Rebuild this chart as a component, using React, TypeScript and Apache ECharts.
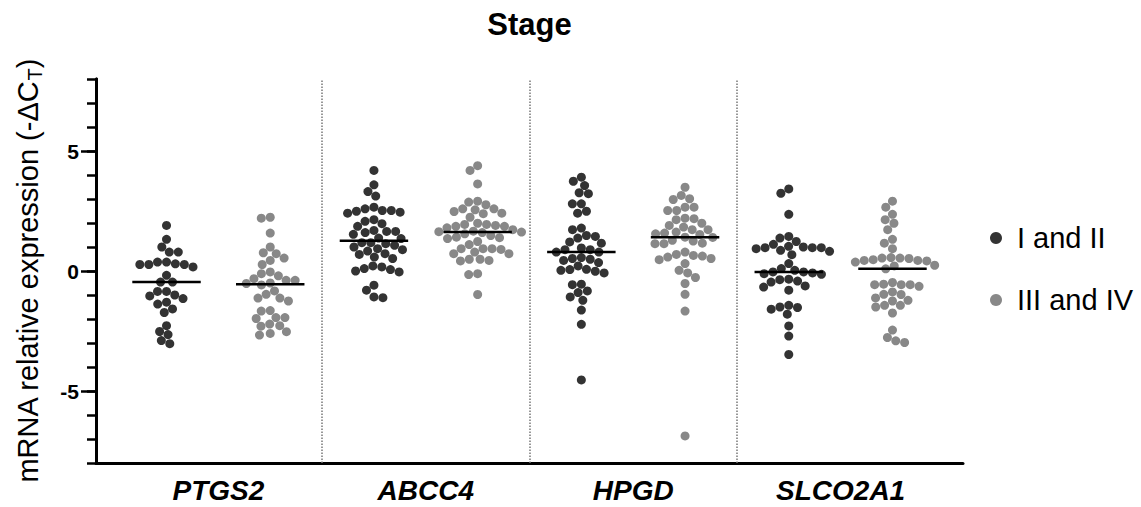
import React, { useEffect, useRef } from "react";
import * as echarts from "echarts";

const genes = ["PTGS2", "ABCC4", "HPGD", "SLCO2A1"];
const stages = ["I and II", "III and IV"];
const yTickLabels = [-5, 0, 5];

const ptgs2Early = [1.9, 1.32, 1.0, 0.79, 0.79, 0.37, 0.37, 0.3, 0.27, 0.27, 0.27, 0.17, -0.18, -0.46, -0.46, -0.85, -0.85, -1.04, -1.15, -1.0, -1.3, -1.38, -1.58, -1.73, -2.28, -2.65, -2.52, -2.9, -3.03];
const ptgs2Late = [2.24, 2.2, 1.58, 1.0, 0.76, 0.72, 0.54, 0.44, 0.27, -0.04, -0.2, -0.11, -0.32, -0.52, -0.5, -0.39, -0.39, -0.58, -0.83, -0.97, -1.13, -1.13, -1.25, -1.67, -1.65, -1.94, -1.94, -1.98, -2.28, -2.21, -2.3, -2.53, -2.6, -2.67];
const abcc4Early = [4.19, 3.59, 3.31, 3.12, 2.52, 2.52, 2.66, 2.41, 2.45, 2.49, 2.59, 2.14, 2.07, 1.97, 1.86, 1.69, 1.53, 1.65, 1.6, 1.65, 1.37, 1.35, 1.14, 1.18, 1.18, 1.0, 0.89, 0.93, 1.07, 0.72, 0.83, 0.69, 0.58, 0.52, 0.21, 0.17, 0.1, 0.06, -0.04, 0.0, -0.59, -0.8, -1.08, -1.11];
const abcc4Late = [4.39, 4.19, 3.63, 2.87, 2.76, 2.91, 2.59, 2.55, 2.48, 2.59, 2.24, 2.39, 2.41, 1.86, 1.94, 1.8, 1.99, 1.86, 1.9, 1.94, 1.72, 1.66, 1.64, 1.62, 1.39, 1.35, 1.48, 1.55, 1.6, 1.41, 1.23, 1.1, 0.93, 0.93, 0.93, 0.9, 0.79, 0.72, 0.72, 0.44, 0.42, 0.49, 0.49, -0.11, -0.15, -0.98];
const hpgdEarly = [3.91, 3.74, 3.56, 3.26, 3.22, 2.8, 2.8, 2.41, 2.49, 1.79, 1.72, 1.48, 1.37, 1.44, 1.21, 1.16, 0.96, 0.89, 0.79, 0.89, 0.79, 0.49, 0.44, 0.35, 0.56, 0.52, 0.21, 0.07, 0.03, -0.08, -0.01, 0.06, -0.55, -0.57, -0.9, -0.83, -1.08, -1.22, -1.63, -2.22, -4.54];
const hpgdLate = [3.49, 3.15, 3.01, 2.98, 2.66, 2.66, 2.52, 2.52, 2.18, 2.2, 2.14, 1.9, 1.83, 1.99, 1.58, 1.72, 1.55, 1.62, 1.52, 1.4, 1.41, 1.72, 1.28, 1.16, 1.14, 1.14, 1.25, 0.79, 0.69, 0.65, 0.58, 0.47, 0.31, 0.52, 0.62, 0.03, -0.08, -0.27, -0.52, -0.97, -1.67, -6.87];
const slco2a1Early = [3.42, 3.24, 2.36, 1.44, 1.37, 1.23, 0.82, 0.93, 1.11, 0.97, 0.86, 1.03, 0.97, 0.97, 1.0, 0.68, 0.31, -0.08, -0.11, -0.14, 0.03, 0.1, -0.04, -0.04, -0.42, -0.36, -0.34, -0.46, -0.67, -0.8, -0.62, -1.59, -1.8, -1.5, -1.43, -1.52, -2.29, -2.71, -3.48];
const slco2a1Late = [2.91, 2.66, 2.36, 2.14, 1.99, 1.72, 1.32, 1.16, 0.93, 0.44, 0.44, 0.47, 0.56, 0.42, 0.54, 0.54, 0.52, 0.37, 0.24, 0.21, 0.09, -0.57, -0.57, -0.57, -0.48, -0.64, -0.55, -0.87, -0.98, -0.97, -1.22, -1.25, -1.12, -1.5, -1.43, -1.43, -1.75, -2.46, -2.77, -2.91, -2.98];

const earlyGroups = [ptgs2Early, abcc4Early, hpgdEarly, slco2a1Early];
const lateGroups = [ptgs2Late, abcc4Late, hpgdLate, slco2a1Late];

const W = 1141;
const H = 507;
const GRID = { left: 96, right: 178, top: 79, bottom: 44 };
const X_MIN = -0.68;
const X_MAX = 7.68;
const Y_MIN = -8;
const Y_MAX = 8;
const FONT = "'Liberation Sans', Arial, Helvetica, sans-serif";

function median(a: number[]) {
  const s = [...a].sort((x, y) => x - y);
  const n = s.length;
  return n % 2 ? s[(n - 1) / 2] : (s[n / 2 - 1] + s[n / 2]) / 2;
}

// simple beeswarm: offsets (in x-axis units) so that dots do not overlap
function swarmOffsets(values: number[], pxX: number, pxY: number, D: number) {
  const order = values.map((_, i) => i).sort((a, b) => values[b] - values[a]);
  const placed: { x: number; y: number }[] = [];
  const out = new Array(values.length).fill(0);
  for (const i of order) {
    const py = values[i] * pxY;
    const near = placed.filter((p) => Math.abs(p.y - py) < D);
    const cands = [0];
    for (const p of near) {
      const h = Math.sqrt(D * D - (p.y - py) * (p.y - py));
      cands.push(p.x - h, p.x + h);
    }
    cands.sort((a, b) => Math.abs(a) - Math.abs(b) || a - b);
    let chosen = 0;
    for (const c of cands) {
      if (near.every((p) => (p.x - c) ** 2 + (p.y - py) ** 2 >= D * D - 0.01)) {
        chosen = c;
        break;
      }
    }
    placed.push({ x: chosen, y: py });
    out[i] = chosen / pxX;
  }
  return out;
}

export default function App() {
  const ref = useRef<HTMLDivElement>(null);

  useEffect(() => {
    if (!ref.current) return;
    const chart = echarts.init(ref.current, undefined, { renderer: "svg" });

    const pxX = (W - GRID.left - GRID.right) / (X_MAX - X_MIN);
    const pxY = (H - GRID.top - GRID.bottom) / (Y_MAX - Y_MIN);
    const D = 9;

    const buildPoints = (groups: number[][], shift: number) => {
      const pts: number[][] = [];
      groups.forEach((vals, g) => {
        const offs = swarmOffsets(vals, pxX, pxY, D);
        vals.forEach((v, i) => pts.push([g * 2 + shift + offs[i], v]));
      });
      return pts;
    };

    const medianSeries: any[] = [];
    const allGroups: number[][] = [];
    for (let g = 0; g < genes.length; g++) {
      allGroups.push(earlyGroups[g], lateGroups[g]);
    }
    allGroups.forEach((vals, k) => {
      const m = median(vals);
      medianSeries.push({
        type: "line",
        name: "median" + k,
        data: [
          [k - 0.33, m],
          [k + 0.33, m],
        ],
        symbol: "none",
        lineStyle: { color: "#000", width: 2.5 },
        z: 5,
        silent: true,
      });
    });

    const option: any = {
      animation: false,
      backgroundColor: "#fff",
      textStyle: { fontFamily: FONT },
      graphic: [
        {
          type: "text",
          x: (GRID.left + W - GRID.right) / 2,
          y: 24,
          style: {
            text: "Stage",
            textAlign: "center",
            textVerticalAlign: "middle",
            fontFamily: FONT,
            fontWeight: "bold",
            fontSize: 31,
            fill: "#000",
          },
        },
      ],
      legend: {
        orient: "vertical",
        left: 985,
        top: 217,
        icon: "circle",
        itemWidth: 12,
        itemHeight: 12,
        itemGap: 30,
        data: stages,
        textStyle: { fontSize: 29, lineHeight: 32, color: "#000", fontFamily: FONT, padding: [0, 0, 0, 10] },
      },
      grid: { ...GRID, containLabel: false },
      xAxis: {
        type: "value",
        min: X_MIN,
        max: X_MAX,
        splitLine: { show: false },
        axisTick: { show: false },
        axisLine: { onZero: false, lineStyle: { color: "#000", width: 3 } },
        axisLabel: {
          customValues: [0.5, 2.5, 4.5, 6.5],
          formatter: (v: number) => genes[Math.round((v - 0.5) / 2)] ?? "",
          fontStyle: "italic",
          fontWeight: "bold",
          fontSize: 28,
          color: "#000",
          margin: 13,
          fontFamily: FONT,
        },
      },
      yAxis: [
        {
          type: "value",
          min: Y_MIN,
          max: Y_MAX,
          interval: 1,
          position: "left",
          splitLine: { show: false },
          axisLine: { onZero: false, lineStyle: { color: "#000", width: 3 } },
          axisTick: { length: 9, lineStyle: { color: "#000", width: 2.5 } },
          axisLabel: { show: false },
        },
        {
          type: "value",
          min: Y_MIN,
          max: Y_MAX,
          interval: 1,
          position: "left",
          offset: 0,
          splitLine: { show: false },
          axisLine: { show: true, onZero: false, lineStyle: { color: "#000", width: 3 } },
          axisTick: { show: true, customValues: yTickLabels, length: 15, lineStyle: { color: "#000", width: 2.5 } },
          axisLabel: {
            customValues: yTickLabels,
            fontSize: 21,
            fontWeight: "bold",
            color: "#000",
            margin: 17,
            fontFamily: FONT,
          },
          name: "{a|mRNA relative expression (-ΔC}{s|T}{a|)}",
          nameLocation: "middle",
          nameRotate: 90,
          nameGap: 51,
          nameTextStyle: {
            rich: {
              a: { fontSize: 29, color: "#000", fontFamily: FONT, lineHeight: 34 },
              s: { fontSize: 20, color: "#000", fontFamily: FONT, lineHeight: 20, verticalAlign: "bottom" },
            },
          },
        },
      ],
      series: [
        {
          type: "scatter",
          name: stages[0],
          data: buildPoints(earlyGroups, 0),
          symbolSize: 9,
          itemStyle: { color: "#333333", opacity: 1 },
          markLine: {
            silent: true,
            symbol: "none",
            label: { show: false },
            lineStyle: { color: "#777", type: "dotted", width: 1.5 },
            data: [{ xAxis: 1.5 }, { xAxis: 3.5 }, { xAxis: 5.5 }],
          },
        },
        {
          type: "scatter",
          name: stages[1],
          data: buildPoints(lateGroups, 1),
          symbolSize: 9,
          itemStyle: { color: "#888888", opacity: 1 },
        },
        ...medianSeries,
      ],
    };

    chart.setOption(option);
    return () => chart.dispose();
  }, []);

  return (
    <div
      ref={ref}
      style={{ position: "fixed", left: 0, top: 0, width: W + "px", height: H + "px", background: "#fff" }}
    />
  );
}
